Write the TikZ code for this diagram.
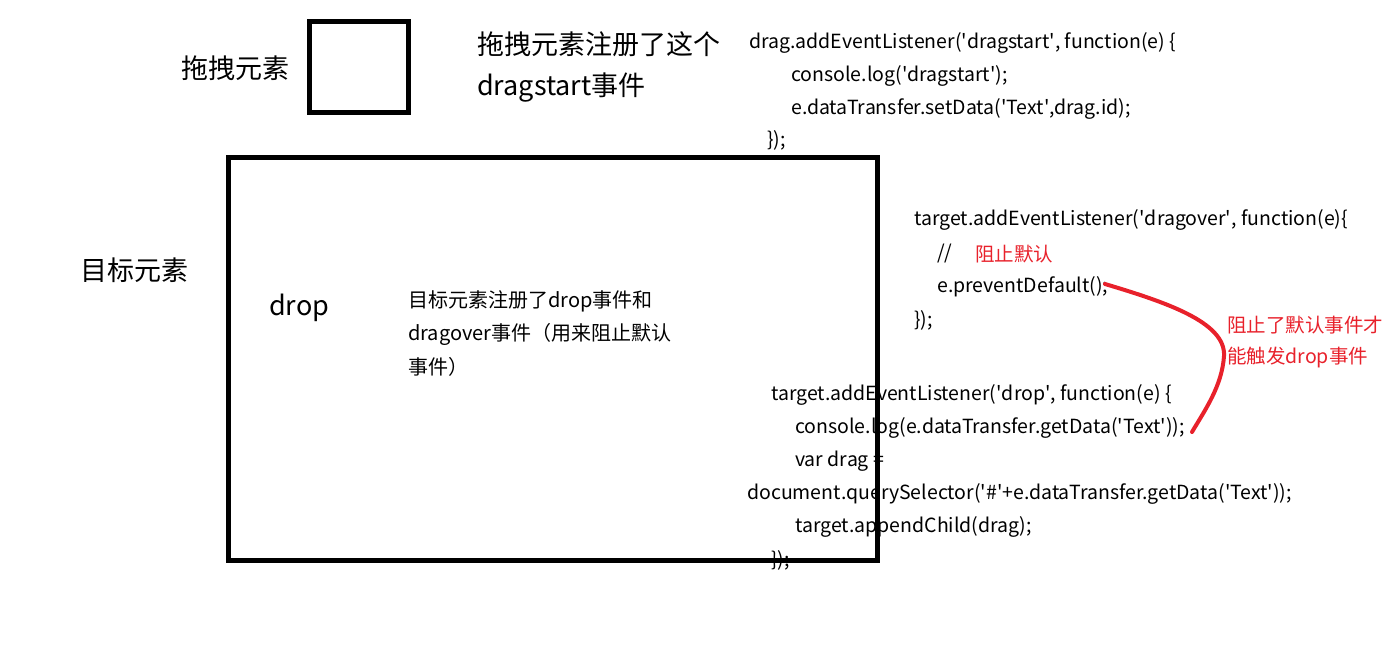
\documentclass[tikz,border=0pt]{standalone}
\usepackage{fontspec}
\setmainfont{Noto Sans CJK SC}
\definecolor{markred}{HTML}{E8212B}
\newcommand{\q}{\textquotesingle}
\begin{document}
\begin{tikzpicture}[x=1pt,y=-1pt,
    code/.style={anchor=west,inner sep=0pt,font=\fontsize{19.5}{19.5}\selectfont},
    note/.style={anchor=west,inner sep=0pt,font=\fontsize{20}{20}\selectfont},
    bigtext/.style={anchor=west,inner sep=0pt,font=\fontsize{27}{27}\selectfont},
    box/.style={draw,line width=5pt,inner sep=0pt}]
    \useasboundingbox (0,0) rectangle (1391,647);

    % drag element
    \node[bigtext] (dragname) at (181,68) {拖拽元素};
    \node[box,minimum width=99pt,minimum height=91pt] (dragbox) at (359,67) {};
    \node[bigtext] (dragnote1) at (477,44) {拖拽元素注册了这个};
    \node[bigtext] (dragnote2) at (477,88) {dragstart事件};

    % dragstart code
    \node[code] (ds1) at (749,43) {drag.addEventListener(\q dragstart\q, function(e) \{};
    \node[code] (ds2) at (791,76) {console.log(\q dragstart\q);};
    \node[code] (ds3) at (791,109) {e.dataTransfer.setData(\q Text\q,drag.id);};
    \node[code] (ds4) at (767,140) {\});};

    % target element
    \node[bigtext] (targetname) at (80,270) {目标元素};
    \node[bigtext] (dropname) at (269,308) {drop};
    \node[note] (tnote1) at (408,301) {目标元素注册了drop事件和};
    \node[note] (tnote2) at (408,334) {dragover事件（用来阻止默认};
    \node[note] (tnote3) at (408,367) {事件）};

    % dragover code
    \node[code] (dov1) at (914,220) {target.addEventListener(\q dragover\q, function(e)\{};
    \node[code] (dov2) at (937,254) {//};
    \node[code,text=markred] (dov2b) at (975,254) {阻止默认};
    \node[code] (dov3) at (937,287) {e.preventDefault();};
    \node[code] (dov4) at (914,320) {\});};

    % drop code
    \node[code] (dr1) at (771,395) {target.addEventListener(\q drop\q, function(e) \{};
    \node[code] (dr2) at (795,428) {console.log(e.dataTransfer.getData(\q Text\q));};
    \node[code] (dr3) at (795,461) {var drag =};
    \node[code] (dr4) at (747,494) {document.querySelector(\q\#\q+e.dataTransfer.getData(\q Text\q));};
    \node[code] (dr5) at (795,527) {target.appendChild(drag);};
    \node[code] (dr6) at (771,560) {\});};

    \node[box,minimum width=649pt,minimum height=403pt] (targetbox) at (553,359) {};

    % red remark
    \node[code,text=markred] (why1) at (1227,325) {阻止了默认事件才};
    \node[code,text=markred] (why2) at (1227,358) {能触发drop事件};
    \coordinate (prevend) at (1105,284);
    \coordinate (logend) at (1192,432);
    \draw[markred,line width=4pt,line cap=round] (prevend)
        .. controls (1165,302) and (1226,322) .. (1224,356)
        .. controls (1222,386) and (1205,410) .. (logend);
\end{tikzpicture}
\end{document}
